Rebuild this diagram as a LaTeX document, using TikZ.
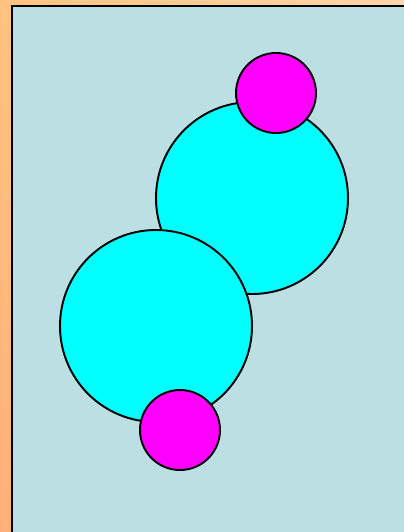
\documentclass[tikz,border=0pt]{standalone}
\usepackage{tikz}
\usepackage{xcolor}
\usetikzlibrary{shadings}

\definecolor{paneblue}{HTML}{BBDFE3}
\definecolor{peachlo}{HTML}{FFB07A}
\definecolor{peachhi}{HTML}{FFD6AA}
\definecolor{peachmid}{HTML}{FFC27F}
\definecolor{ballcyan}{HTML}{00FFFF}
\definecolor{ballmagenta}{HTML}{FF00FF}

\begin{document}
\begin{tikzpicture}[x=0.02cm, y=-0.02cm, line width=1.1pt]
  \useasboundingbox (0,0) rectangle (404,532);

  % Peach background
  \shade[upper left=peachmid, upper right=peachhi, lower left=peachlo, lower right=peachmid]
    (0,0) rectangle (404,532);

  % Blue pane with black frame
  \filldraw[fill=paneblue, draw=black, line width=1.6pt] (12,6) rectangle (420,550);

  % Define ball drawing macro
  % #1=x, #2=y, #3=radius, #4=fill color
  \newcommand{\ball}[4]{%
    \filldraw[fill=#4, draw=black] (#1,#2) circle (#3);
  }

  % Two large cyan balls (upper one first)
  \ball{252}{198}{96}{ballcyan}
  \ball{156}{326}{96}{ballcyan}

  % Two small magenta balls on top
  \ball{276}{93}{40}{ballmagenta}
  \ball{180}{430}{40}{ballmagenta}
\end{tikzpicture}
\end{document}
